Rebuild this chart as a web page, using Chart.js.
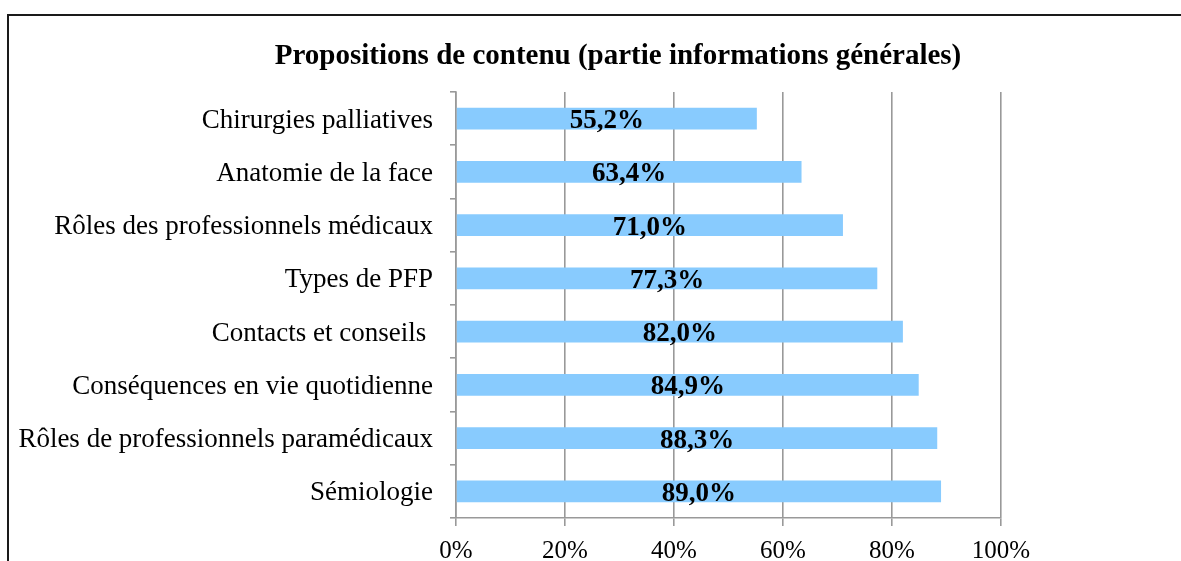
<!DOCTYPE html>
<html><head><meta charset="utf-8">
<script src="https://cdn.jsdelivr.net/npm/chart.js@4/dist/chart.umd.min.js"></script>
<style>
html,body{margin:0;padding:0;background:#fff;overflow:hidden;width:1181px;height:561px;}
#frame{position:absolute;left:7px;top:14px;width:1218px;height:580px;border:2px solid #1a1a1a;background:#fff;}
#c{display:block;}
</style></head>
<body>
<div id="frame"><canvas id="c" width="1218" height="580"></canvas></div>
<script>
const categories = [
  "Chirurgies palliatives",
  "Anatomie de la face",
  "Rôles des professionnels médicaux",
  "Types de PFP",
  "Contacts et conseils ",
  "Conséquences en vie quotidienne",
  "Rôles de professionnels paramédicaux",
  "Sémiologie"
];
const values = [55.2, 63.4, 71.0, 77.3, 82.0, 84.9, 88.3, 89.0];
const xTicks = [0, 20, 40, 60, 80, 100];
const titleText = "Propositions de contenu (partie informations générales)";

const serif = "'Liberation Serif', 'Times New Roman', serif";

const titlePlugin = {
  id: 'centeredTitle',
  afterDraw(chart) {
    const ctx = chart.ctx;
    ctx.save();
    ctx.font = "bold 29px " + serif;
    ctx.fillStyle = "#000";
    ctx.textAlign = "center";
    ctx.textBaseline = "alphabetic";
    ctx.fillText(titleText, chart.width / 2, 48);
    ctx.restore();
  }
};

const valueLabels = {
  id: 'valueLabels',
  afterDatasetsDraw(chart) {
    const ctx = chart.ctx;
    const meta = chart.getDatasetMeta(0);
    ctx.save();
    ctx.font = "bold 27px " + serif;
    ctx.fillStyle = "#000";
    ctx.textAlign = "center";
    ctx.textBaseline = "alphabetic";
    meta.data.forEach((bar, i) => {
      const cx = (bar.x + bar.base) / 2;
      ctx.fillText(values[i].toFixed(1).replace('.', ',') + '%', cx, bar.y + 9.5);
    });
    ctx.restore();
  }
};

new Chart(document.getElementById('c'), {
  type: 'bar',
  data: {
    labels: categories,
    datasets: [{
      data: values,
      backgroundColor: '#88CBFE',
      borderWidth: 0,
      categoryPercentage: 1,
      barPercentage: 0.41
    }]
  },
  options: {
    indexAxis: 'y',
    responsive: false,
    animation: false,
    devicePixelRatio: 1,
    layout: { padding: { left: 0, right: 226, top: 76, bottom: 0 } },
    plugins: {
      legend: { display: false },
      tooltip: { enabled: false },
      title: { display: false }
    },
    scales: {
      x: {
        min: 0, max: 100,
        afterBuildTicks(scale) { scale.ticks = xTicks.map(v => ({ value: v })); },
        afterFit(scale) { scale.height = 78; },
        ticks: {
          callback: v => v + '%',
          color: '#000',
          font: { family: serif, size: 25 },
          padding: 10,
          maxRotation: 0
        },
        grid: { color: '#999999', lineWidth: 1.6, tickLength: 8, drawOnChartArea: true },
        border: { display: true, color: '#999999', width: 1.6 }
      },
      y: {
        afterFit(scale) { scale.width = 447; },
        ticks: {
          color: '#000',
          font: { family: serif, size: 27 },
          padding: 17,
          labelOffset: 2
        },
        grid: { offset: true, drawOnChartArea: false, color: '#999999', lineWidth: 1.6, tickLength: 6 },
        border: { display: true, color: '#999999', width: 1.6 }
      }
    }
  },
  plugins: [valueLabels, titlePlugin]
});
</script>
</body></html>
